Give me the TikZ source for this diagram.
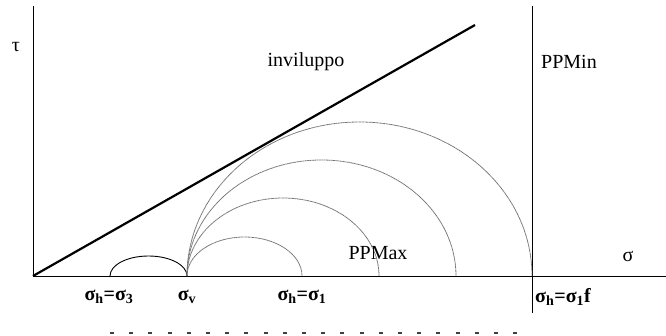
\documentclass[tikz,border=0pt]{standalone}
\usepackage{fontspec}
\setmainfont{Liberation Serif}
\begin{document}
\begin{tikzpicture}[x=1pt,y=-1pt,
  axisline/.style={black,line width=0.9pt},
  envline/.style={black,line width=2.2pt},
  mohr/.style={black!55,line width=0.8pt,dash pattern=on 1pt off 0.4pt},
  smallcirc/.style={black,line width=0.9pt},
  lbl/.style={font=\fontsize{20}{24}\selectfont,inner sep=0pt},
  blbl/.style={font=\fontsize{20}{24}\selectfont\bfseries,inner sep=0pt},
  dashrow/.style={black!75,line width=2pt,dash pattern=on 4pt off 15.2pt}]
\useasboundingbox (0,0) rectangle (666,336);
% axes
\coordinate (O) at (33,276);
\coordinate (Ytop) at (33,6);
\coordinate (Xend) at (666,276);
\coordinate (Ltop) at (532,6);
\coordinate (Lbot) at (532,313);
\coordinate (Etop) at (475,25);
\draw[axisline] (Ytop) -- (O) -- (Xend);
\draw[axisline] (Ltop) -- (Lbot);
% envelope
\draw[envline] (O) -- (Etop);
% small circle
\coordinate (S3) at (110,276);
\draw[smallcirc] (S3) arc[start angle=180,end angle=360,x radius=38.5,y radius=20];
% Mohr circles from sigma_v
\coordinate (Sv) at (187,276);
\draw[mohr] (Sv) arc[start angle=180,end angle=360,x radius=57.5,y radius=39];
\draw[mohr] (Sv) arc[start angle=180,end angle=360,x radius=96,y radius=78];
\draw[mohr] (Sv) arc[start angle=180,end angle=360,x radius=134.5,y radius=116];
\draw[mohr] (Sv) arc[start angle=180,end angle=360,x radius=172.5,y radius=154];
% labels
\node[lbl] (tau) at (16,47) {τ};
\node[lbl] (inv) at (306,62) {inviluppo};
\node[lbl] (ppmin) at (569,62) {PPMin};
\node[lbl] (ppmax) at (378,253) {PPMax};
\node[lbl] (sig) at (628,256) {σ};
\node[blbl] (l1) at (109,297) {σ\textsubscript{h}=σ\textsubscript{3}};
\node[blbl] (l2) at (187,297) {σ\textsubscript{v}};
\node[blbl] (l3) at (302,297) {σ\textsubscript{h}=σ\textsubscript{1}};
\node[blbl,anchor=west] (l4) at (535,297) {σ\textsubscript{h}=σ\textsubscript{1}f};
% dashed row
\coordinate (D1) at (110,333);
\coordinate (D2) at (519,333);
\draw[dashrow] (D1) -- (D2);
\end{tikzpicture}
\end{document}
